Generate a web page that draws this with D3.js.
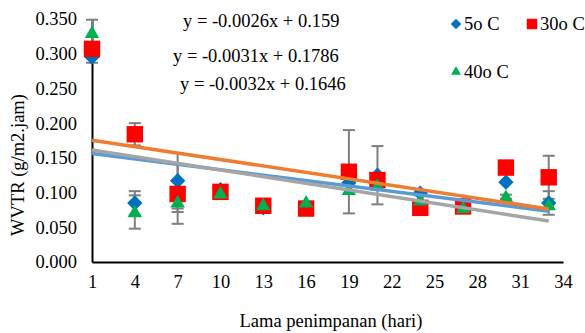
<!DOCTYPE html>
<html lang="en">
<head>
<meta charset="UTF-8">
<title>WVTR</title>
<script src="https://d3js.org/d3.v7.min.js"></script>
<style>
  body { margin: 0; background: #fff; font-family: "Liberation Serif", serif; }
</style>
</head>
<body>
<div id="chart"></div>
<script>
// storage days
const days = [1, 4, 7, 10, 13, 16, 19, 21, 24, 27, 30, 33];
const xTicks = [1, 4, 7, 10, 13, 16, 19, 22, 25, 28, 31, 34];
const yTicks = [0, 0.05, 0.1, 0.15, 0.2, 0.25, 0.3, 0.35];

// WVTR values per temperature
const wvtr5 = [0.295, 0.085, 0.117, 0.104, 0.078, 0.081, 0.114, 0.125, 0.099, 0.082, 0.115, 0.085];
const wvtr30 = [0.307, 0.184, 0.098, 0.101, 0.081, 0.077, 0.130, 0.118, 0.078, 0.080, 0.136, 0.122];
const wvtr40 = [0.330, 0.072, 0.086, 0.099, 0.082, 0.086, 0.104, 0.110, 0.089, 0.078, 0.094, 0.082];

// error bars (+/-)
const err5 = [0.008, 0.017, 0.040, 0, 0.003, 0, 0, 0.042, 0.003, 0, 0, 0.017];
const err30 = [0, 0.016, 0.043, 0, 0, 0, 0.060, 0, 0, 0, 0, 0.031];
const err40 = [0.019, 0.024, 0.014, 0, 0, 0, 0, 0, 0, 0, 0.003, 0];

// linear trendlines
const trendSlope = [-0.0026, -0.0031, -0.0032];
const trendIntercept = [0.159, 0.1786, 0.1646];
const trendLabels = ["y = -0.0026x + 0.159", "y = -0.0031x + 0.1786", "y = -0.0032x + 0.1646"];

const seriesNames = ["5o C", "30o C", "40o C"];

const FONT = "Liberation Serif";
const FS = "18.5px";

const width = 585, height = 333;
const svg = d3.select("#chart").append("svg")
  .attr("width", width)
  .attr("height", height);

const x = d3.scaleLinear().domain([1, 34]).range([92, 563]);
const y = d3.scaleLinear().domain([0, 0.35]).range([262, 19]);

// axes
const xAxis = svg.append("g")
  .attr("transform", `translate(0,${y(0)})`)
  .call(d3.axisBottom(x).tickValues(xTicks).tickSize(0).tickPadding(13).tickFormat(d3.format("d")));
xAxis.attr("font-family", FONT);
xAxis.select(".domain").attr("stroke", "#000").attr("stroke-width", 2);
xAxis.selectAll("text").style("font-family", FONT).style("font-size", FS).attr("fill", "#000");

const yAxis = svg.append("g")
  .attr("transform", `translate(${x(1)},0)`)
  .call(d3.axisLeft(y).tickValues(yTicks).tickSize(0).tickPadding(15).tickFormat(d3.format(".3f")));
yAxis.attr("font-family", FONT);
yAxis.select(".domain").attr("stroke", "#000").attr("stroke-width", 2);
yAxis.selectAll("text").style("font-family", FONT).style("font-size", FS).attr("fill", "#000");

// axis titles
svg.append("text")
  .attr("x", 331).attr("y", 327)
  .attr("text-anchor", "middle")
  .style("font-family", FONT).style("font-size", FS)
  .text("Lama penimpanan (hari)");

svg.append("text")
  .attr("transform", "rotate(-90)")
  .attr("x", -165).attr("y", 24)
  .attr("text-anchor", "middle")
  .style("font-family", FONT).style("font-size", FS)
  .text("WVTR (g/m2.jam)");

// error bars
const errColor = "#7f7f7f";
function drawErrors(vals, errs) {
  const g = svg.append("g").attr("stroke", errColor).attr("stroke-width", 2);
  days.forEach((d, i) => {
    if (!errs[i]) return;
    const top = y(vals[i] + errs[i]), bot = y(vals[i] - errs[i]), cx = x(d);
    g.append("line").attr("x1", cx).attr("x2", cx).attr("y1", top).attr("y2", bot);
    g.append("line").attr("x1", cx - 6).attr("x2", cx + 6).attr("y1", top).attr("y2", top);
    g.append("line").attr("x1", cx - 6).attr("x2", cx + 6).attr("y1", bot).attr("y2", bot);
  });
}
drawErrors(wvtr5, err5);
drawErrors(wvtr30, err30);
drawErrors(wvtr40, err40);

// markers
const diamond = d3.symbol().type(d3.symbolDiamond2).size(150)();
const square = d3.symbol().type(d3.symbolSquare).size(270)();
const triangle = d3.symbol().type(d3.symbolTriangle2).size(150)();

svg.append("g").selectAll("path").data(days).join("path")
  .attr("d", diamond)
  .attr("transform", (d, i) => `translate(${x(d)},${y(wvtr5[i])})`)
  .attr("fill", "#0070c0");

svg.append("g").selectAll("path").data(days).join("path")
  .attr("d", square)
  .attr("transform", (d, i) => `translate(${x(d)},${y(wvtr30[i])})`)
  .attr("fill", "#ff0000");

svg.append("g").selectAll("path").data(days).join("path")
  .attr("d", triangle)
  .attr("transform", (d, i) => `translate(${x(d)},${y(wvtr40[i]) + 1})`)
  .attr("fill", "#00b050");

// trendlines
const trendColors = ["#5b9bd5", "#ed7d31", "#a5a5a5"];
const first = d3.min(days), last = d3.max(days);
trendSlope.forEach((m, k) => {
  svg.append("line")
    .attr("x1", x(first)).attr("y1", y(m * first + trendIntercept[k]))
    .attr("x2", x(last)).attr("y2", y(m * last + trendIntercept[k]))
    .attr("stroke", trendColors[k])
    .attr("stroke-width", 3.5);
});

// equations
const eqPos = [[183, 27], [173, 62], [180, 90]];
trendLabels.forEach((t, k) => {
  svg.append("text")
    .attr("x", eqPos[k][0]).attr("y", eqPos[k][1])
    .style("font-family", FONT).style("font-size", FS)
    .text(t);
});

// legend
const legend = svg.append("g");
const legendPos = [[456, 24], [532, 24], [456, 72]];
const legendShapes = [
  d3.symbol().type(d3.symbolDiamond2).size(70)(),
  d3.symbol().type(d3.symbolSquare).size(110)(),
  d3.symbol().type(d3.symbolTriangle2).size(70)()
];
const legendColors = ["#0070c0", "#ff0000", "#00b050"];
seriesNames.forEach((name, k) => {
  legend.append("path")
    .attr("d", legendShapes[k])
    .attr("transform", `translate(${legendPos[k][0]},${legendPos[k][1]})`)
    .attr("fill", legendColors[k]);
  legend.append("text")
    .attr("x", legendPos[k][0] + 8).attr("y", legendPos[k][1] + 6)
    .style("font-family", FONT).style("font-size", FS)
    .text(name);
});
</script>
</body>
</html>
